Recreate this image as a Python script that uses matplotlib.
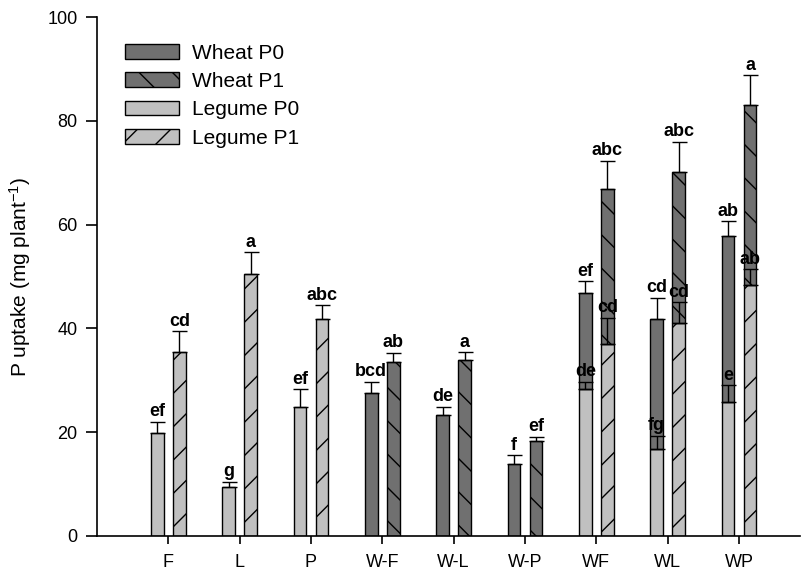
import numpy as np
import matplotlib.pyplot as plt
from matplotlib.patches import Patch

plt.rcParams['font.family'] = ['Liberation Sans', 'DejaVu Sans']
plt.rcParams['mathtext.fontset'] = 'custom'
plt.rcParams['mathtext.rm'] = 'Liberation Sans'
plt.rcParams['mathtext.default'] = 'regular'
plt.rcParams['hatch.linewidth'] = 1.0

categories = ['F', 'L', 'P', 'W-F', 'W-L', 'W-P', 'WF', 'WL', 'WP']

# legume part (bottom of stacked bars), None = no bar
legume_p0 = [19.9, 9.5, 24.8, None, None, None, 28.3, 16.7, 25.8]
legume_p1 = [35.5, 50.5, 41.8, None, None, None, 36.9, 41.0, 48.4]
legume_p0_err = [2.1, 1.0, 3.5, None, None, None, 1.4, 2.6, 3.2]
legume_p1_err = [4.0, 4.2, 2.7, None, None, None, 5.2, 4.1, 3.0]
legume_p0_lab = ['ef', 'g', 'ef', '', '', '', 'de', 'fg', 'e']
legume_p1_lab = ['cd', 'a', 'abc', '', '', '', 'cd', 'cd', 'ab']

# wheat part (stacked on top of legume in intercrops)
wheat_p0 = [None, None, None, 27.6, 23.3, 13.9, 18.5, 25.2, 32.1]
wheat_p1 = [None, None, None, 33.5, 34.0, 18.3, 30.0, 29.2, 34.6]
wheat_p0_err = [None, None, None, 2.1, 1.6, 1.7, 2.3, 4.0, 2.7]
wheat_p1_err = [None, None, None, 1.8, 1.4, 0.8, 5.4, 5.8, 5.8]
wheat_p0_lab = ['', '', '', 'bcd', 'de', 'f', 'ef', 'cd', 'ab']
wheat_p1_lab = ['', '', '', 'ab', 'a', 'ef', 'abc', 'abc', 'a']

wheat_col = '#707070'
legume_col = '#c0c0c0'
width = 0.18
offset = 0.155

fig = plt.figure(figsize=(8.04, 5.71), dpi=100)
ax = fig.add_axes([0.1206, 0.0613, 0.874, 0.9089])

x = np.arange(1, len(categories) + 1)


def draw(xs, vals, errs, labs, bottoms, color, hatch):
    for xi, v, e, lab, b in zip(xs, vals, errs, labs, bottoms):
        if v is None:
            continue
        b = b or 0
        ax.bar(xi, v, width, bottom=b, color=color, edgecolor='black',
               linewidth=1, hatch=hatch, zorder=2)
        top = b + v
        ax.errorbar(xi, top, yerr=[[0], [e]], fmt='none', ecolor='black',
                    elinewidth=1, capsize=5.4, capthick=1, zorder=4)
        ax.annotate(lab, (xi, top + e), xytext=(0, 1), textcoords='offset points',
                    ha='center', va='bottom', fontsize=13, fontweight='bold',
                    zorder=6)


draw(x - offset, legume_p0, legume_p0_err, legume_p0_lab, [0] * 9, legume_col, None)
draw(x + offset, legume_p1, legume_p1_err, legume_p1_lab, [0] * 9, legume_col, '/')
draw(x - offset, wheat_p0, wheat_p0_err, wheat_p0_lab, legume_p0, wheat_col, None)
draw(x + offset, wheat_p1, wheat_p1_err, wheat_p1_lab, legume_p1, wheat_col, '\\')

ax.set_xlim(0, 9.85)
ax.set_ylim(0, 100)
ax.set_xticks(x)
ax.set_xticklabels(categories)
ax.set_yticks(np.arange(0, 101, 20))
ax.tick_params(axis='both', direction='out', labelsize=13, width=1.2)
ax.tick_params(axis='y', length=8, pad=6)
ax.tick_params(axis='x', length=6, pad=7)
ax.spines['top'].set_visible(False)
ax.spines['right'].set_visible(False)
ax.spines['left'].set_linewidth(1.2)
ax.spines['bottom'].set_linewidth(1.2)
ax.set_ylabel('P uptake (mg plant$^{-1}$)', fontsize=15, labelpad=10)

handles = [
    Patch(facecolor=wheat_col, edgecolor='black', label='Wheat P0'),
    Patch(facecolor=wheat_col, edgecolor='black', hatch='\\', label='Wheat P1'),
    Patch(facecolor=legume_col, edgecolor='black', label='Legume P0'),
    Patch(facecolor=legume_col, edgecolor='black', hatch='/', label='Legume P1'),
]
ax.legend(handles=handles, loc='upper left', bbox_to_anchor=(0.013, 0.985),
          frameon=False, fontsize=15, handlelength=2.6, handleheight=0.7,
          labelspacing=0.45, handletextpad=0.6)

fig.savefig('out.png', dpi=100)
